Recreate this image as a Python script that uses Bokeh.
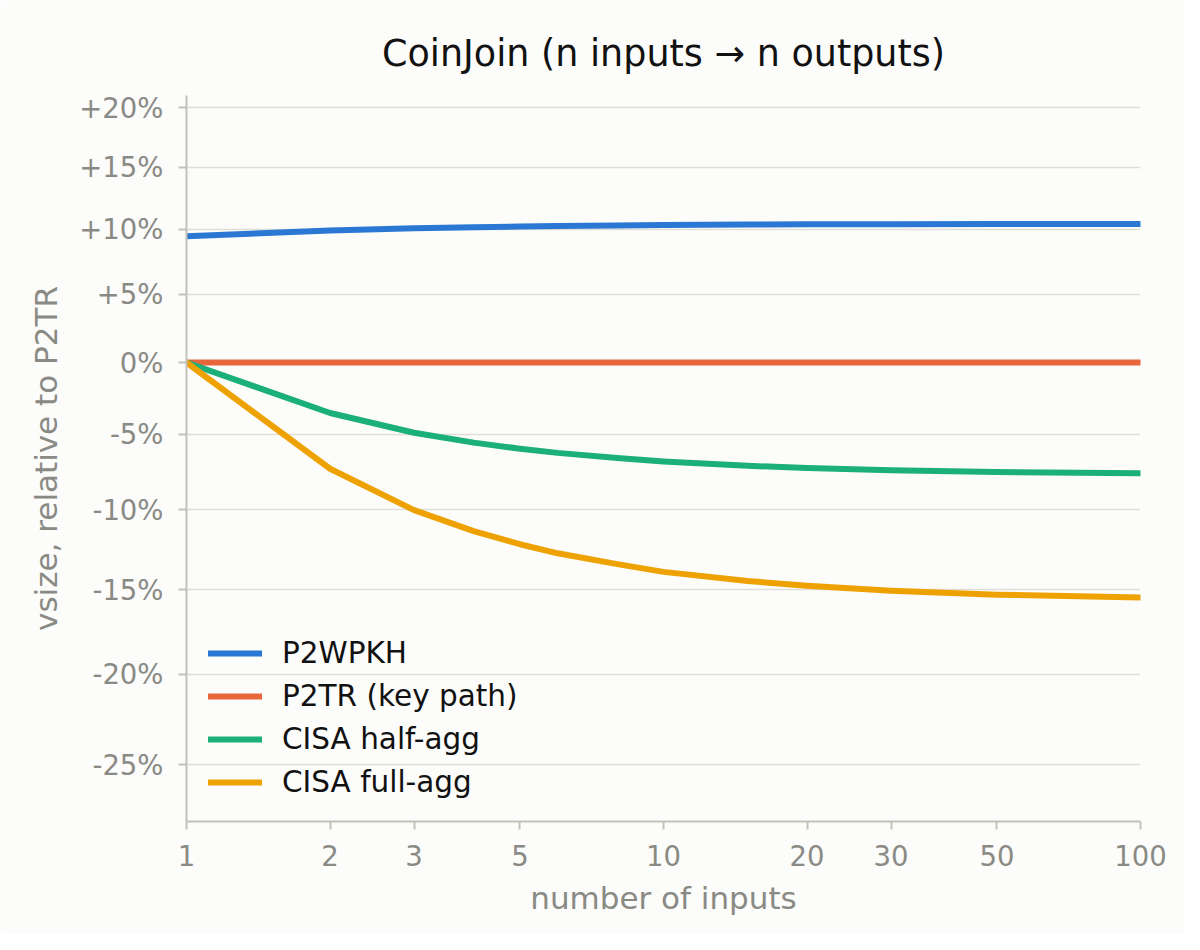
from bokeh.plotting import figure
from bokeh.models import Range1d, FixedTicker, CustomJSTickFormatter, Legend, LegendItem
from bokeh.embed import file_html
from bokeh.resources import INLINE

# ---- data ----
n_inputs = [1, 2, 3, 4, 5, 6, 8, 10, 15, 20, 30, 50, 100]
p2wpkh = [1.0945, 1.0990, 1.1008, 1.1017, 1.1022, 1.1026, 1.1030, 1.1034, 1.1037, 1.1039, 1.1040, 1.1041, 1.1042]
p2tr = [1.0, 1.0, 1.0, 1.0, 1.0, 1.0, 1.0, 1.0, 1.0, 1.0, 1.0, 1.0, 1.0]
cisa_half = [1.0, 0.9645, 0.9510, 0.9443, 0.9402, 0.9374, 0.9339, 0.9317, 0.9288, 0.9273, 0.9258, 0.9246, 0.9238]
cisa_full = [1.0, 0.9268, 0.8998, 0.8864, 0.8781, 0.8724, 0.8657, 0.8609, 0.8553, 0.8524, 0.8494, 0.8470, 0.8453]

series_names = ["P2WPKH", "P2TR (key path)", "CISA half-agg", "CISA full-agg"]
series_colors = ["#2B78D4", "#E8673A", "#1BAF7A", "#EEA202"]

x_ticks = [1, 2, 3, 5, 10, 20, 30, 50, 100]
x_tick_labels = ["1", "2", "3", "5", "10", "20", "30", "50", "100"]
y_ticks = [0.75, 0.80, 0.85, 0.90, 0.95, 1.00, 1.05, 1.10, 1.15, 1.20]
y_tick_labels = ["-25%", "-20%", "-15%", "-10%", "-5%", "0%", "+5%", "+10%", "+15%", "+20%"]

FONT = "DejaVu Sans"
BG = "#FCFCFA"
GRAY = "#8A8A85"
AXIS = "#C2C2B8"

p = figure(width=1184, height=934, x_axis_type="log", y_axis_type="log",
           x_range=Range1d(1, 100), y_range=Range1d(0.7201, 1.2105),
           output_backend="svg", toolbar_location=None,
           min_border_left=186, min_border_right=44, min_border_top=95, min_border_bottom=113,
           title="CoinJoin (n inputs \u2192 n outputs)")

p.background_fill_color = BG
p.border_fill_color = BG
p.outline_line_color = None

p.title.align = "center"
p.title.text_font = FONT
p.title.text_font_size = "36.5px"
p.title.text_font_style = "normal"
p.title.text_color = "#111111"
p.title.standoff = 42

for ax in (p.xaxis[0], p.yaxis[0]):
    ax.axis_line_color = AXIS
    ax.axis_line_width = 2
    ax.major_tick_line_color = AXIS
    ax.major_tick_line_width = 2
    ax.major_tick_out = 8
    ax.major_tick_in = 0
    ax.minor_tick_line_color = None
    ax.major_label_text_font = FONT
    ax.major_label_text_font_size = "27.5px"
    ax.major_label_text_color = GRAY
    ax.axis_label_text_font = FONT
    ax.axis_label_text_font_size = "31px"
    ax.axis_label_text_font_style = "normal"
    ax.axis_label_text_color = GRAY

fmt_code = """
const i = tvals.findIndex(t => Math.abs(t - tick) < 1e-9);
return i >= 0 ? tlabels[i] : '';
"""
p.xaxis.ticker = FixedTicker(ticks=x_ticks)
p.xaxis.formatter = CustomJSTickFormatter(args=dict(tvals=x_ticks, tlabels=x_tick_labels), code=fmt_code)
p.yaxis.ticker = FixedTicker(ticks=y_ticks)
p.yaxis.formatter = CustomJSTickFormatter(args=dict(tvals=y_ticks, tlabels=y_tick_labels), code=fmt_code)
p.xaxis.axis_label = "number of inputs"
p.yaxis.axis_label = "vsize, relative to P2TR"
p.xaxis.major_label_standoff = 15
p.yaxis.major_label_standoff = 15
p.xaxis.axis_label_standoff = 11
p.yaxis.axis_label_standoff = 12

p.xgrid.visible = False
p.ygrid.grid_line_color = "#DEDED6"
p.ygrid.grid_line_width = 1.5

renderers = []
for ys, name, col in zip([p2wpkh, p2tr, cisa_half, cisa_full], series_names, series_colors):
    r = p.line(n_inputs, ys, line_color=col, line_width=6, line_cap="round", line_join="round")
    renderers.append(r)

legend = Legend(items=[LegendItem(label=nm, renderers=[r]) for nm, r in zip(series_names, renderers)],
                location="bottom_left")
legend.border_line_color = None
legend.background_fill_alpha = 0
legend.label_text_font = FONT
legend.label_text_font_size = "29.5px"
legend.label_text_color = "#111111"
legend.glyph_width = 54
legend.glyph_height = 30
legend.label_height = 30
legend.label_standoff = 20
legend.spacing = 9
legend.padding = 10
legend.margin = 22
p.add_layout(legend)

open("out.html", "w").write(file_html(p, INLINE))
